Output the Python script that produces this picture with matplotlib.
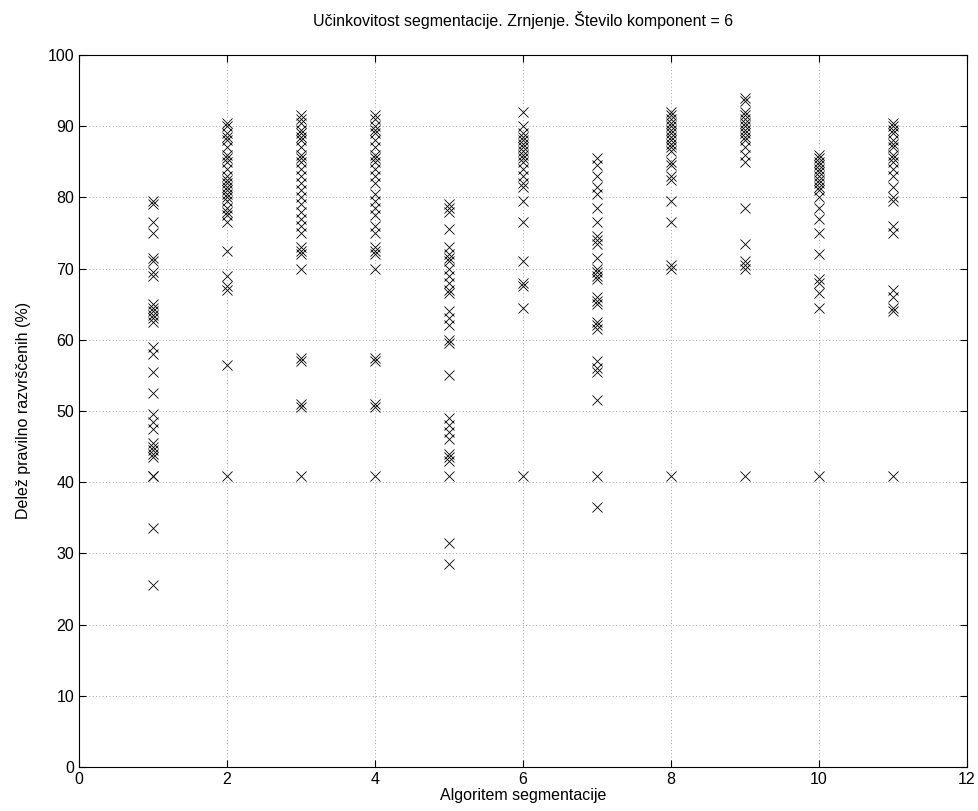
import matplotlib
matplotlib.use("Agg")
import matplotlib.pyplot as plt

plt.rcParams["font.family"] = ["Liberation Sans", "DejaVu Sans"]

# Delež pravilno razvrščenih (%) per algoritem
alg1 = [79.5, 79, 76.5, 75, 71.5, 71, 69.5, 69, 65, 64.5, 64, 63.5, 63, 62.5, 59, 58, 55.5,
        52.5, 49.5, 48.5, 47.5, 45.5, 45, 44.5, 44, 43.5, 40.8, 40.8, 33.5, 25.5]
alg2 = [90.5, 90, 89, 88.5, 88, 87, 86, 85.5, 85, 84, 83, 82.5, 82, 81.5, 81, 80.5, 80, 79.5,
        78.5, 78, 77.5, 76.5, 72.5, 69, 67.5, 67, 56.5, 40.8]
alg3 = [91.5, 91, 90.5, 89.5, 89, 88.5, 88, 87, 86, 85.5, 85, 84, 83, 82, 81, 80, 79, 78, 77,
        76, 75, 73, 72.5, 72, 70, 57.5, 57, 51, 50.5, 40.8]
alg4 = [91.5, 91, 90, 89.5, 89, 88, 87, 86, 85.5, 85, 84, 83, 82, 80.5, 79.5, 78.5, 77.5, 76,
        75, 73, 72.5, 72, 70, 57.5, 57, 51, 50.5, 40.8]
alg5 = [79, 78.5, 78, 75.5, 73, 72, 71.5, 71, 70, 69, 68, 67, 66.5, 64, 63, 62, 60, 59.5, 55,
        49, 48, 47, 46, 44, 43.5, 43, 40.8, 31.5, 28.5]
alg6 = [92, 90, 89, 88.5, 88, 87.5, 87, 86.5, 86, 85.5, 85, 84, 83, 82, 81.5, 79.5, 76.5, 71,
        68, 67.5, 64.5, 40.8]
alg7 = [85.5, 84.5, 83, 81.5, 80.5, 78.5, 76.5, 74.5, 74, 73.5, 71.5, 70, 69.5, 69, 68.5, 66,
        65.5, 65, 62.5, 62, 61.5, 57, 56, 55.5, 51.5, 40.8, 36.5]
alg8 = [92, 91.5, 91, 90.5, 90, 89.5, 89, 88.5, 88, 87.5, 87, 86.5, 85, 84.5, 83, 82.5, 79.5,
        76.5, 70.5, 70, 40.8]
alg9 = [94, 93.5, 92, 91.5, 91, 90.5, 90, 89.5, 89, 88.5, 88, 87, 86, 85, 78.5, 73.5, 71, 70.5,
        70, 40.8]
alg10 = [86, 85.5, 85, 84.5, 84, 83.5, 83, 82.5, 82, 81.5, 81, 80, 78.5, 77, 75, 72, 68.5, 68,
         66.5, 64.5, 40.8]
alg11 = [90.5, 90, 89.5, 89, 88, 87.5, 87, 86, 85.5, 85, 84, 83, 81.5, 80, 79.5, 76, 75, 67, 66,
         64.5, 64, 40.8]

results = [alg1, alg2, alg3, alg4, alg5, alg6, alg7, alg8, alg9, alg10, alg11]

fig = plt.figure(figsize=(9.79, 8.11), dpi=100)
ax = fig.add_axes([0.0807, 0.0543, 0.907, 0.878])

for i, vals in enumerate(results, start=1):
    ax.plot([i] * len(vals), vals, "x", color="black", markersize=6.5, markeredgewidth=0.6)

ax.set_xlim(0, 12)
ax.set_ylim(0, 100)
ax.set_xticks(range(0, 13, 2))
ax.set_yticks(range(0, 101, 10))
ax.grid(True, linestyle=(0, (1, 3)), color="#888888", linewidth=0.6)
ax.tick_params(direction="in", top=True, right=True, labelsize=11.5, length=5)
for s in ax.spines.values():
    s.set_linewidth(0.8)

ax.set_xlabel("Algoritem segmentacije", fontsize=11.5, labelpad=1)
ax.set_ylabel("Delež pravilno razvrščenih (%)", fontsize=11.5, labelpad=12)
ax.set_title("Učinkovitost segmentacije. Zrnjenje. Število komponent = 6", fontsize=11.5, pad=21)

fig.savefig("out.png", dpi=100)
